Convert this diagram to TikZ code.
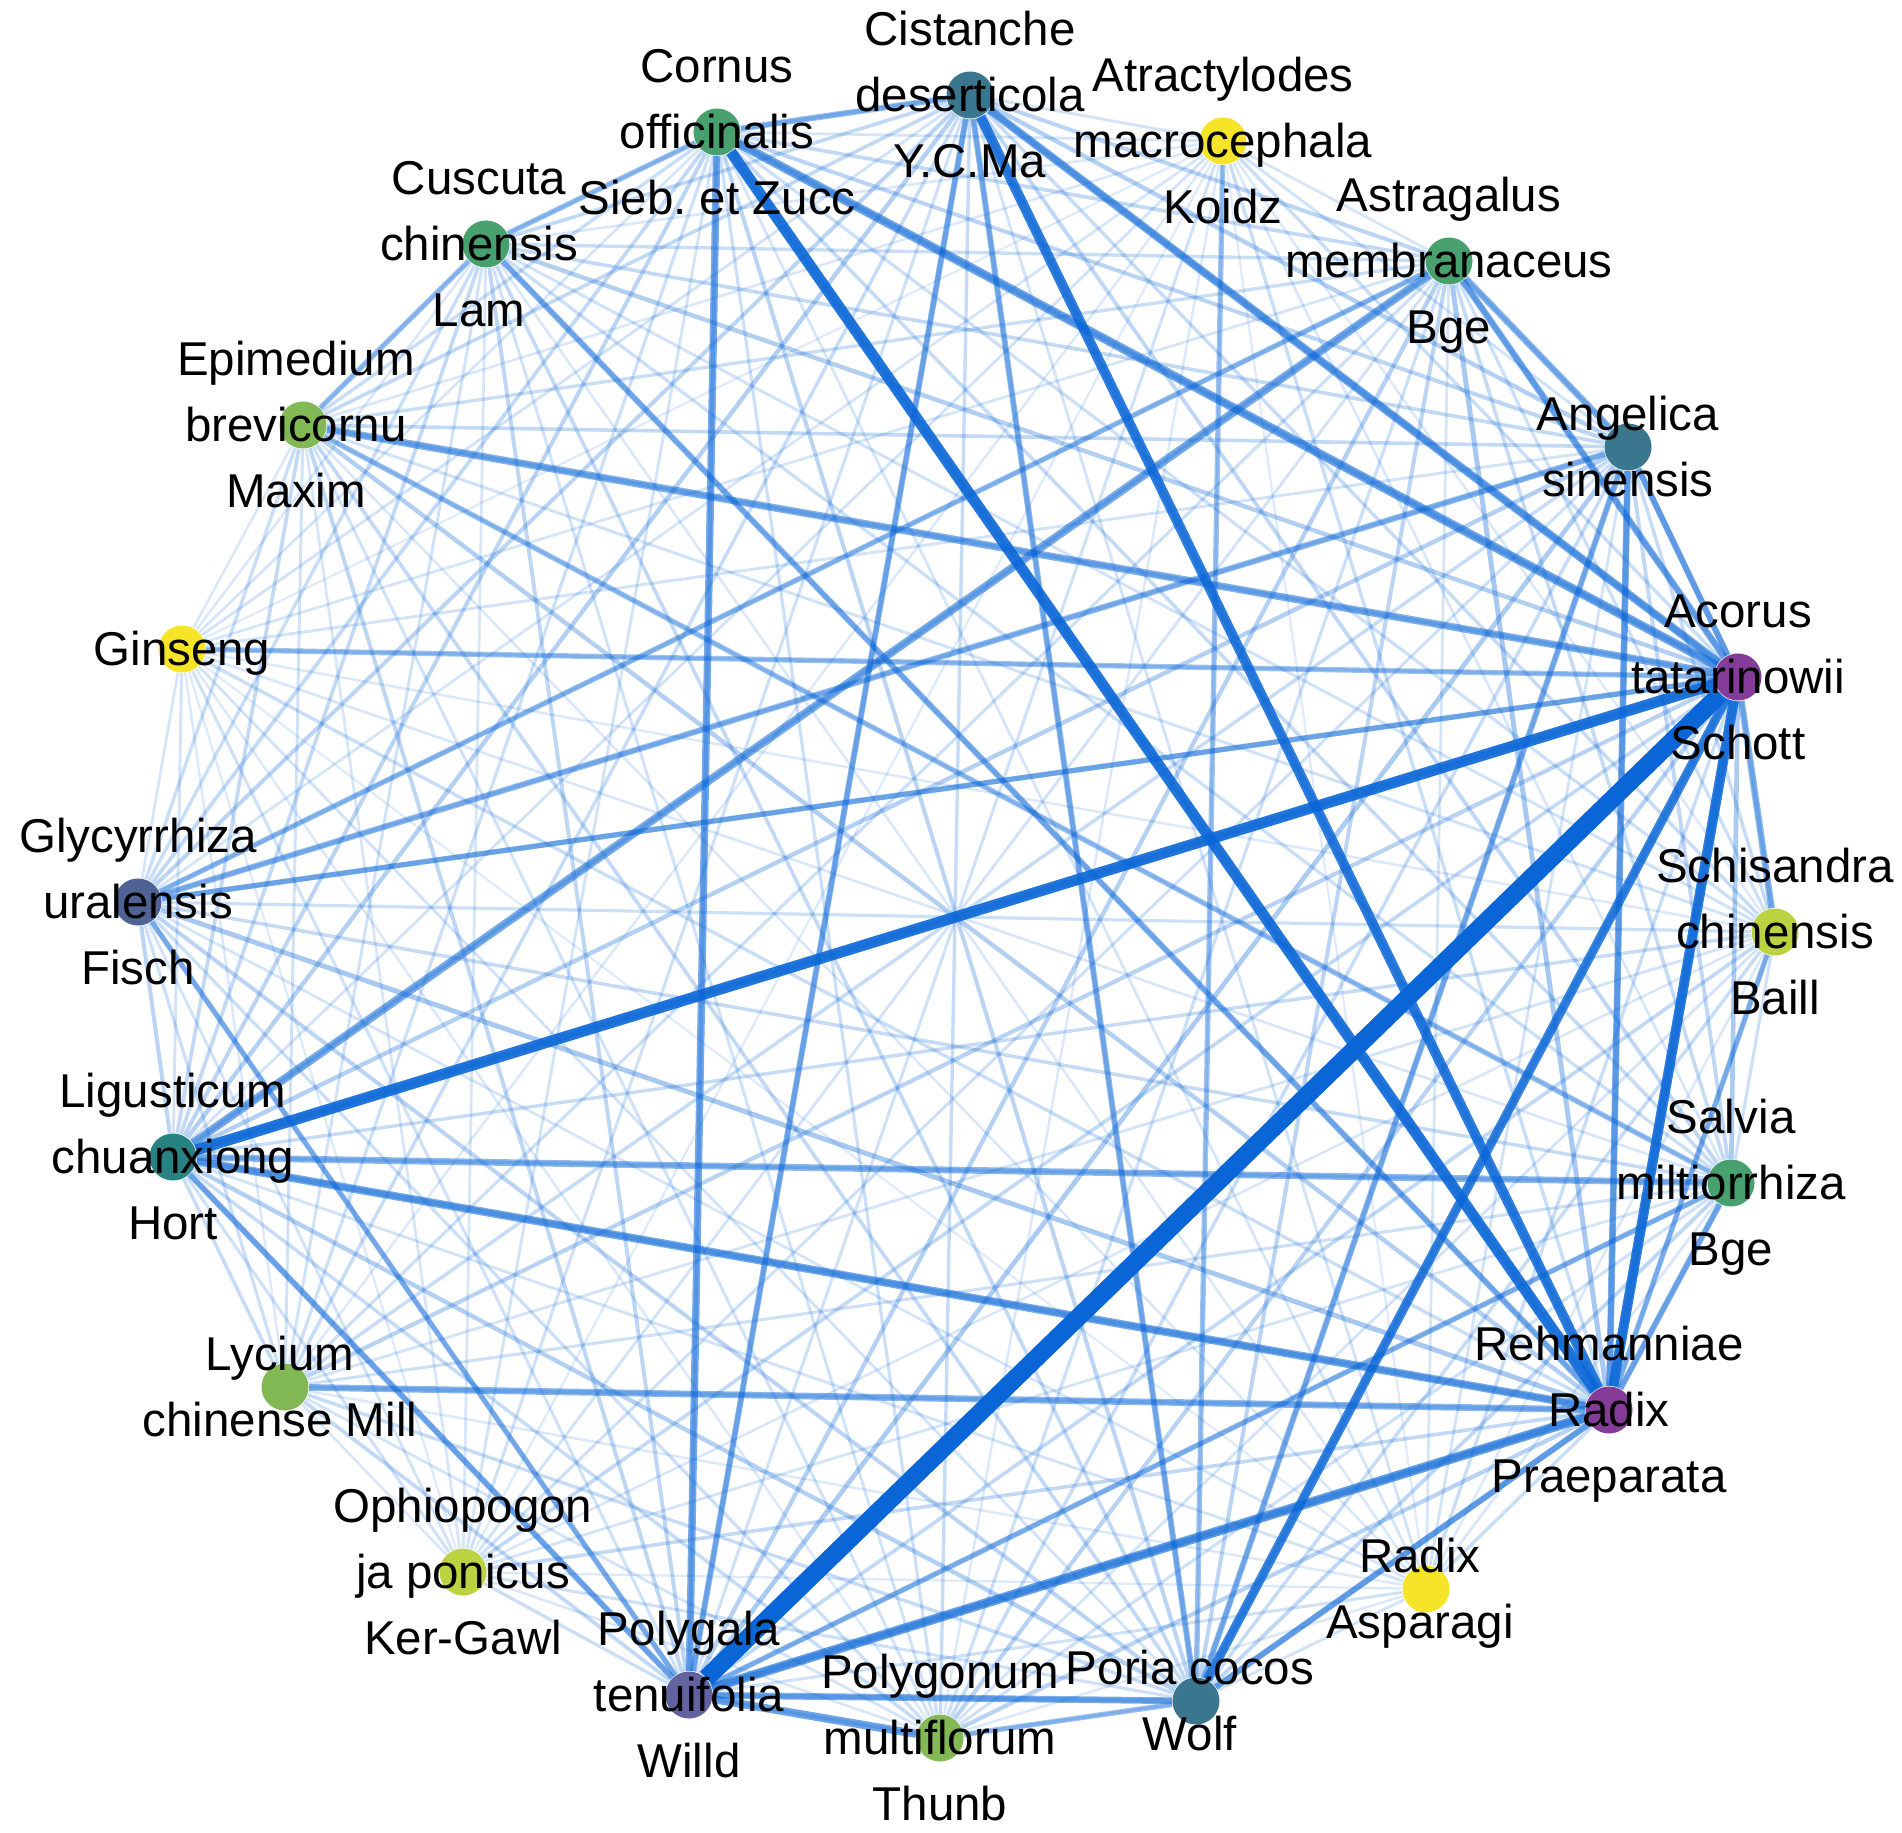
\documentclass[tikz,border=0pt]{standalone}
\usepackage{fontspec}
\setmainfont{Liberation Sans}
\definecolor{eb}{RGB}{10,102,214}
\definecolor{cPu}{RGB}{133,60,152}
\definecolor{cPt}{RGB}{98,98,158}
\definecolor{cGl}{RGB}{78,98,148}
\definecolor{cTe}{RGB}{58,118,142}
\definecolor{cLi}{RGB}{40,130,130}
\definecolor{cGr}{RGB}{72,160,110}
\definecolor{cLg}{RGB}{130,185,85}
\definecolor{cYg}{RGB}{188,210,65}
\definecolor{cYe}{RGB}{245,228,40}
\pgfdeclarelayer{edges}
\pgfsetlayers{edges,main}
\newcommand\lbl[1]{\strut#1}
\frenchspacing
\begin{document}
\begin{tikzpicture}[x=0.01cm,y=-0.01cm,
  nd/.style={circle,inner sep=0pt,minimum size=0.47cm,draw=none},
  lb/.style={align=center,font=\fontsize{13.5}{18.8}\selectfont,inner sep=0pt,yshift=-0.03cm},
  ed/.style={draw=eb,line cap=butt}]
\useasboundingbox (0,0) rectangle (1902,1833);
% nodes
\node[nd,fill=cTe] (Ci) at (970,95) {};
\node[nd,fill=cYe] (At) at (1223,141) {};
\node[nd,fill=cGr] (As) at (1449,261) {};
\node[nd,fill=cTe] (An) at (1628,447) {};
\node[nd,fill=cPu] (Ac) at (1738,677) {};
\node[nd,fill=cYg] (Sc) at (1775,932) {};
\node[nd,fill=cGr] (Sa) at (1731,1183) {};
\node[nd,fill=cPu] (Re) at (1609,1410) {};
\node[nd,fill=cYe] (RA) at (1426,1589) {};
\node[nd,fill=cTe] (Po) at (1196,1701) {};
\node[nd,fill=cLg] (Pm) at (940,1738) {};
\node[nd,fill=cPt] (Pt) at (689,1695) {};
\node[nd,fill=cYg] (Op) at (463,1572) {};
\node[nd,fill=cLg] (Ly) at (285,1387) {};
\node[nd,fill=cLi] (Li) at (173,1157) {};
\node[nd,fill=cGl] (Gl) at (138,902) {};
\node[nd,fill=cYe] (Gi) at (182,649) {};
\node[nd,fill=cLg] (Ep) at (303,425) {};
\node[nd,fill=cGr] (Cu) at (486,244) {};
\node[nd,fill=cGr] (Co) at (717,132) {};
% edges
\begin{pgfonlayer}{edges}
\def\nodelist{Ci/0.7,At/0.3,As/0.6,An/0.7,Ac/1.0,Sc/0.45,Sa/0.55,Re/1.0,RA/0.3,Po/0.7,Pm/0.45,Pt/0.8,Op/0.35,Ly/0.45,Li/0.7,Gl/0.6,Gi/0.3,Ep/0.5,Cu/0.5,Co/0.6}
\foreach \a/\sa [count=\i] in \nodelist {
  \foreach \b/\sb [count=\j] in \nodelist {
    \ifnum\j>\i
      \pgfmathsetmacro\pp{\sa*\sb}
      \pgfmathsetmacro\op{0.09+0.45*\pp}
      \pgfmathsetmacro\lw{0.5+1.5*\pp}
      \draw[ed,line width=\lw pt,draw opacity=\op] (\a) -- (\b);
    \fi
  }
}
\foreach \a/\b/\w/\o in {
  Cu/Co/4/0.45, Ep/Cu/4/0.45, Gl/Pt/4/0.45, Gl/As/4/0.45, Re/Sc/4/0.45,
  Gi/Ac/4/0.45, Gl/Ac/4/0.45, At/Po/4/0.45, Po/Pm/4/0.45, Ep/Sa/4/0.45,
  Pt/Sa/4/0.45, Gl/An/4.5/0.5, Cu/Re/4.5/0.5, Ci/Po/4.5/0.5, Ci/Pt/4.5/0.5,
  Po/An/4.5/0.5, Re/Sa/4.5/0.5, Li/Pt/4.5/0.5, Re/Po/4.5/0.5, Ci/Co/4.5/0.5,
  Ac/An/4.5/0.5, As/An/5/0.55, As/Ac/5/0.55, An/Re/5/0.55, Ac/Sc/5/0.55,
  Li/Sa/5/0.55, Ly/Re/5/0.55, Pt/Po/5/0.6, Ep/Ac/5.5/0.6, Co/Pt/5.5/0.65,
  Li/Re/6/0.65, Li/As/6/0.65, Ci/Ac/6/0.65, Pt/Pm/6/0.7, Co/Ac/6.5/0.7,
  Pt/Re/7/0.75} {
  \pgfmathsetmacro\lw{\w*0.2845*1.35}
  \pgfmathsetmacro\oo{\o*0.85}
  \draw[ed,line width=\lw pt,draw opacity=\oo] (\a) -- (\b);
}
\foreach \a/\b/\w/\o in {
  Ac/Po/9/0.8, Ci/Re/10/0.85, Ac/Re/10/0.85, Co/Re/11/0.9,
  Ac/Li/11/0.9, Ac/Pt/18/1.0} {
  \pgfmathsetmacro\lw{\w*0.2845}
  \draw[ed,line width=\lw pt,draw opacity=\o] (\a) -- (\b);
}
\end{pgfonlayer}
% labels
\node[lb] (Ci-l) at (Ci) {\lbl{Cistanche}\\\lbl{deserticola}\\\lbl{Y.C.Ma}};
\node[lb] (At-l) at (At) {\lbl{Atractylodes}\\\lbl{macrocephala}\\\lbl{Koidz}};
\node[lb] (As-l) at (As) {\lbl{Astragalus}\\\lbl{membranaceus}\\\lbl{Bge}};
\node[lb] (An-l) at (An) {\lbl{Angelica}\\\lbl{sinensis}};
\node[lb] (Ac-l) at (Ac) {\lbl{Acorus}\\\lbl{tatarinowii}\\\lbl{Schott}};
\node[lb] (Sc-l) at (Sc) {\lbl{Schisandra}\\\lbl{chinensis}\\\lbl{Baill}};
\node[lb] (Sa-l) at (Sa) {\lbl{Salvia}\\\lbl{miltiorrhiza}\\\lbl{Bge}};
\node[lb] (Re-l) at (Re) {\lbl{Rehmanniae}\\\lbl{Radix}\\\lbl{Praeparata}};
\node[lb] (RA-l) at ([xshift=-0.06cm]RA) {\lbl{Radix}\\\lbl{Asparagi}};
\node[lb] (Po-l) at ([xshift=-0.06cm]Po) {\lbl{Poria cocos}\\\lbl{Wolf}};
\node[lb] (Pm-l) at (Pm) {\lbl{Polygonum}\\\lbl{multiflorum}\\\lbl{Thunb}};
\node[lb] (Pt-l) at (Pt) {\lbl{Polygala}\\\lbl{tenuifolia}\\\lbl{Willd}};
\node[lb] (Op-l) at (Op) {\lbl{Ophiopogon}\\\lbl{ja ponicus}\\\lbl{Ker-Gawl}};
\node[lb] (Ly-l) at ([xshift=-0.05cm]Ly) {\lbl{Lycium}\\\lbl{chinense Mill}};
\node[lb] (Li-l) at (Li) {\lbl{Ligusticum}\\\lbl{chuanxiong}\\\lbl{Hort}};
\node[lb] (Gl-l) at (Gl) {\lbl{Glycyrrhiza}\\\lbl{uralensis}\\\lbl{Fisch}};
\node[lb] (Gi-l) at (Gi) {\lbl{Ginseng}};
\node[lb] (Ep-l) at ([xshift=-0.07cm]Ep) {\lbl{Epimedium}\\\lbl{brevicornu}\\\lbl{Maxim}};
\node[lb] (Cu-l) at ([xshift=-0.07cm]Cu) {\lbl{Cuscuta}\\\lbl{chinensis}\\\lbl{Lam}};
\node[lb] (Co-l) at (Co) {\lbl{Cornus}\\\lbl{officinalis}\\\lbl{Sieb. et Zucc}};
\end{tikzpicture}
\end{document}
